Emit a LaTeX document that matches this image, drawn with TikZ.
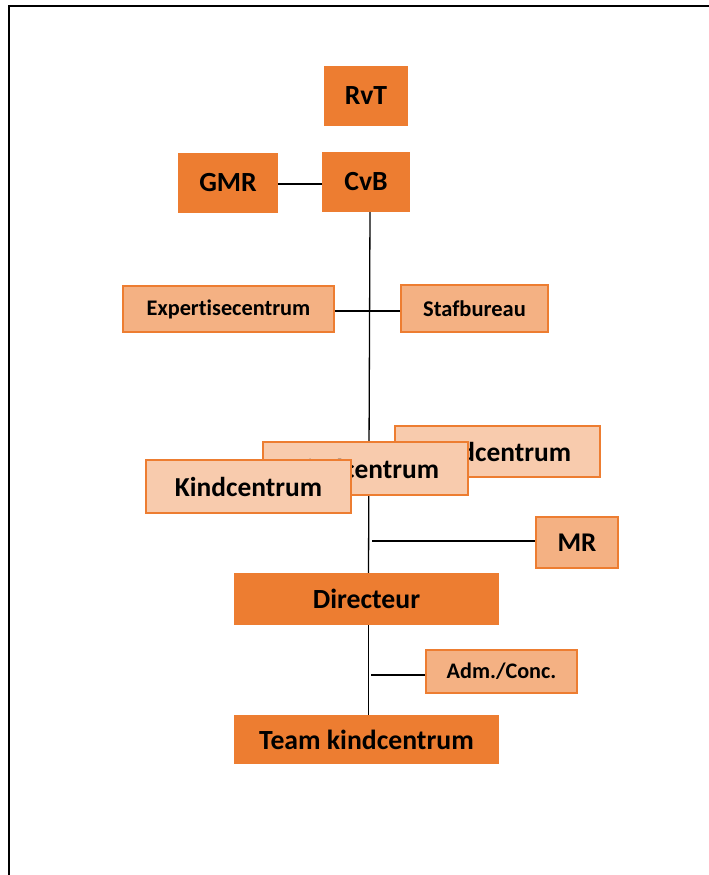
\documentclass[tikz,border=0pt]{standalone}
\usepackage{fontspec}
\setmainfont[Ligatures=NoCommon]{Carlito}
\definecolor{dorange}{HTML}{ED7D31}
\definecolor{morange}{HTML}{F4B183}
\definecolor{lorange}{HTML}{F8CBAD}
\tikzset{
  box/.style={rectangle, inner sep=0pt, font=\bfseries},
  dark/.style={box, fill=dorange, draw=none},
  mid/.style={box, fill=morange, draw=dorange, line width=1.5pt},
  light/.style={box, fill=lorange, draw=dorange, line width=1.5pt},
  conn/.style={line width=1.3pt, black},
}
\begin{document}
\begin{tikzpicture}[x=1pt,y=-1pt]
\useasboundingbox (0,0) rectangle (709,875);
\draw[line width=2pt] (9,890) -- (9,6) -- (720,6);

% nodes
\node[dark, minimum width=84pt, minimum height=60pt, font=\bfseries\fontsize{27.7}{32}\selectfont] (RvT) at (366,96) {RvT};
\node[dark, minimum width=100pt, minimum height=60pt, font=\bfseries\fontsize{27.7}{32}\selectfont] (GMR) at (228,183) {GMR};
\node[dark, minimum width=88pt, minimum height=60pt, font=\bfseries\fontsize{27.7}{32}\selectfont] (CvB) at (366,182) {CvB};
\node[dark, minimum width=265pt, minimum height=52pt, font=\bfseries\fontsize{27.7}{32}\selectfont] (Dir) at (366.5,599) {Directeur};
\node[dark, minimum width=265pt, minimum height=49pt, font=\bfseries\fontsize{27.7}{32}\selectfont] (Team) at (366.5,739.5) {Team kindcentrum};

\coordinate (trunkTop) at ([xshift=4pt]CvB.south);
\coordinate (trunkBot) at ([xshift=2pt]Dir.north);
\coordinate (mrJ) at (372,541);
\coordinate (admJ) at (371,675);

% connectors (drawn below boxes)
\draw[conn] (GMR.east |- 0,184) -- (CvB.west |- 0,184);
\draw[conn] (trunkTop) -- (trunkBot);
\draw[conn] ([xshift=2pt]Dir.south) -- ([xshift=2pt]Team.north);

\node[mid, minimum width=211pt, minimum height=46pt, font=\bfseries\fontsize{22.3}{26}\selectfont] (Exp) at (228.5,309) {Expertisecentrum};
\node[mid, minimum width=147pt, minimum height=47pt, font=\bfseries\fontsize{22.5}{26}\selectfont] (Staf) at (474.5,308.5) {Stafbureau};
\draw[conn] ([yshift=-2pt]Exp.east) -- ([yshift=-2.5pt]Staf.west);

\node[light, minimum width=205pt, minimum height=51pt, font=\bfseries\fontsize{27.4}{31}\selectfont] (K3) at (497.5,451.5) {Kindcentrum};
\node[light, minimum width=205pt, minimum height=53pt, font=\bfseries\fontsize{27.4}{31}\selectfont] (K2) at (365.5,468.5) {Kindcentrum};
\node[light, minimum width=205pt, minimum height=53pt, font=\bfseries\fontsize{27.4}{31}\selectfont] (K1) at (248.5,486.5) {Kindcentrum};

\node[mid, minimum width=82pt, minimum height=51pt, font=\bfseries\fontsize{27}{31}\selectfont] (MR) at (577,542.5) {MR};
\draw[conn] (mrJ) -- (MR.west |- mrJ);

\node[mid, minimum width=151pt, minimum height=43pt, font=\bfseries\fontsize{22.2}{26}\selectfont] (Adm) at (501.5,671.5) {Adm./Conc.};
\draw[conn] (admJ) -- (Adm.west |- admJ);
\end{tikzpicture}
\end{document}
